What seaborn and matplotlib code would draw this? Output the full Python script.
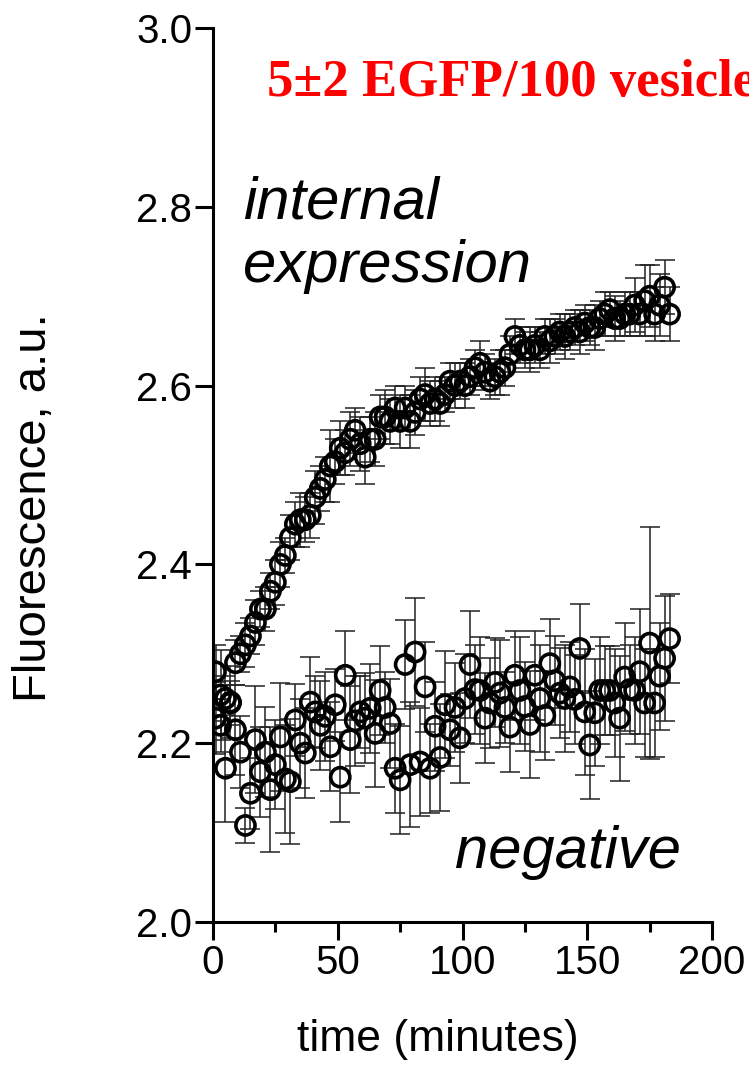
import numpy as np
import matplotlib
matplotlib.use("Agg")
import matplotlib.pyplot as plt
import seaborn as sns
from matplotlib.ticker import MultipleLocator, FormatStrFormatter

# time grid (minutes), one reading every ~2 min
time = np.arange(1, 185, 2)

# internal expression
internal = [
    2.28, 2.22, 2.25, 2.245, 2.29, 2.30, 2.31, 2.32, 2.335, 2.35,
    2.35, 2.37, 2.38, 2.40, 2.41, 2.43, 2.445, 2.45, 2.45, 2.455,
    2.475, 2.485, 2.495, 2.51, 2.515, 2.53, 2.525, 2.54, 2.55, 2.535,
    2.52, 2.54, 2.54, 2.565, 2.565, 2.56, 2.575, 2.56, 2.575, 2.56,
    2.57, 2.585, 2.59, 2.58, 2.585, 2.58, 2.59, 2.605, 2.60, 2.605,
    2.60, 2.61, 2.62, 2.625, 2.615, 2.605, 2.61, 2.615, 2.62, 2.635,
    2.655, 2.645, 2.64, 2.64, 2.645, 2.64, 2.655, 2.65, 2.655, 2.66,
    2.655, 2.66, 2.665, 2.66, 2.67, 2.665, 2.665, 2.675, 2.68, 2.685,
    2.675, 2.675, 2.68, 2.68, 2.69, 2.68, 2.695, 2.70, 2.68, 2.69,
    2.71, 2.68,
]
internal_err = [
    0.03, 0.03, 0.025, 0.025, 0.025, 0.02, 0.025, 0.02, 0.025, 0.02,
    0.025, 0.02, 0.025, 0.025, 0.02, 0.025, 0.025, 0.03, 0.025, 0.025,
    0.03, 0.025, 0.025, 0.04, 0.025, 0.03, 0.025, 0.03, 0.025, 0.03,
    0.03, 0.025, 0.03, 0.025, 0.03, 0.025, 0.025, 0.03, 0.025, 0.03,
    0.025, 0.025, 0.03, 0.025, 0.025, 0.025, 0.02, 0.02, 0.025, 0.02,
    0.025, 0.02, 0.02, 0.025, 0.02, 0.02, 0.02, 0.025, 0.02, 0.02,
    0.02, 0.02, 0.02, 0.025, 0.02, 0.02, 0.02, 0.025, 0.02, 0.02,
    0.025, 0.02, 0.02, 0.025, 0.02, 0.02, 0.025, 0.02, 0.025, 0.02,
    0.025, 0.02, 0.025, 0.025, 0.03, 0.025, 0.04, 0.035, 0.03, 0.035,
    0.03, 0.03,
]

# negative control
negative = [
    2.228, 2.254, 2.172, 2.246, 2.215, 2.19, 2.108, 2.144, 2.204, 2.168,
    2.19, 2.148, 2.176, 2.207, 2.16, 2.157, 2.226, 2.20, 2.189, 2.246,
    2.235, 2.22, 2.23, 2.196, 2.243, 2.162, 2.276, 2.204, 2.225, 2.235,
    2.228, 2.239, 2.211, 2.259, 2.24, 2.222, 2.172, 2.159, 2.288, 2.176,
    2.302, 2.179, 2.263, 2.172, 2.219, 2.184, 2.243, 2.215, 2.24, 2.206,
    2.25, 2.288, 2.26, 2.259, 2.228, 2.245, 2.268, 2.256, 2.24, 2.218,
    2.276, 2.259, 2.241, 2.221, 2.276, 2.25, 2.231, 2.289, 2.27, 2.256,
    2.25, 2.263, 2.249, 2.306, 2.235, 2.198, 2.234, 2.259, 2.259, 2.259,
    2.245, 2.228, 2.274, 2.26, 2.259, 2.28, 2.245, 2.312, 2.245, 2.275,
    2.295, 2.317,
]
negative_err = [
    0.04, 0.05, 0.06, 0.04, 0.05, 0.04, 0.02, 0.04, 0.06, 0.05,
    0.05, 0.07, 0.05, 0.06, 0.06, 0.07, 0.04, 0.05, 0.05, 0.05,
    0.04, 0.05, 0.05, 0.05, 0.04, 0.05, 0.05, 0.06, 0.05, 0.04,
    0.05, 0.05, 0.06, 0.05, 0.04, 0.05, 0.05, 0.06, 0.05, 0.07,
    0.06, 0.06, 0.05, 0.05, 0.05, 0.06, 0.06, 0.04, 0.05, 0.05,
    0.05, 0.06, 0.05, 0.06, 0.05, 0.05, 0.05, 0.06, 0.04, 0.05,
    0.05, 0.06, 0.05, 0.06, 0.05, 0.06, 0.05, 0.05, 0.05, 0.05,
    0.06, 0.05, 0.05, 0.05, 0.07, 0.06, 0.06, 0.06, 0.05, 0.05,
    0.06, 0.07, 0.06, 0.05, 0.06, 0.07, 0.06, 0.13, 0.06, 0.06,
    0.07, 0.05,
]

sns.set_style("ticks")
plt.rcParams['font.family'] = ['Liberation Sans', 'DejaVu Sans']
plt.rcParams.update({'text.color': 'black', 'axes.labelcolor': 'black',
                     'xtick.color': 'black', 'ytick.color': 'black',
                     'axes.edgecolor': 'black'})

fig = plt.figure(figsize=(7.49, 10.69), dpi=100)
ax = fig.add_axes([0.2844, 0.1375, 0.6662, 0.8363])

for y, err in [(internal, internal_err), (negative, negative_err)]:
    ax.errorbar(time, y, yerr=err, fmt='none', ecolor='#222222',
                elinewidth=1.1, capsize=7, capthick=1.1, zorder=1)
    sns.scatterplot(x=time, y=y, ax=ax, s=190, facecolor='none',
                    edgecolor='black', linewidth=2.6, zorder=2)

ax.set_xlim(0, 200)
ax.set_ylim(2.0, 3.0)
ax.xaxis.set_major_locator(MultipleLocator(50))
ax.xaxis.set_minor_locator(MultipleLocator(25))
ax.yaxis.set_major_locator(MultipleLocator(0.2))
ax.yaxis.set_major_formatter(FormatStrFormatter('%.1f'))

sns.despine(ax=ax)
for s in ['left', 'bottom']:
    ax.spines[s].set_linewidth(2.2)
ax.tick_params(which='major', length=13, width=2.2, labelsize=29, direction='out')
ax.tick_params(which='minor', length=7, width=2.2, direction='out')
ax.tick_params(axis='x', pad=3)
ax.tick_params(axis='y', pad=2)

ax.set_xlabel('time (minutes)', fontsize=32)
ax.set_ylabel('Fluorescence, a.u.', fontsize=34)
ax.xaxis.set_label_coords(0.451, -0.108)
ax.yaxis.set_label_coords(-0.315, 0.463)

ax.text(12, 2.787, 'internal', fontsize=43, style='italic', ha='left', va='baseline')
ax.text(12, 2.716, 'expression', fontsize=43, style='italic', ha='left', va='baseline')
ax.text(97, 2.060, 'negative', fontsize=43, style='italic', ha='left', va='baseline')

fig.text(267 / 749, 0.9100, '5\u00b12 EGFP/100 vesicles', color='red', fontsize=38,
         fontweight='bold', family=['Liberation Serif', 'DejaVu Serif'],
         ha='left', va='baseline')

fig.savefig('out.png', dpi=100)
